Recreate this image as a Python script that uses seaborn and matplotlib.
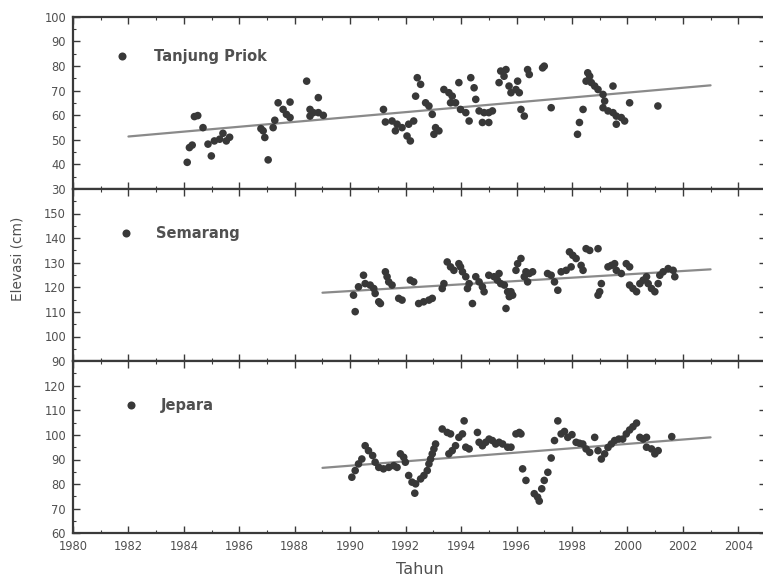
import numpy as np
import pandas as pd
import matplotlib
matplotlib.use("Agg")
import matplotlib.pyplot as plt
from matplotlib.lines import Line2D
import seaborn as sns
from matplotlib.ticker import MultipleLocator

# ---------------- data ----------------
stations = ["Tanjung Priok", "Semarang", "Jepara"]

tp_year = [1984.12, 1984.20, 1984.30, 1984.38, 1984.50, 1984.69, 1984.87, 1984.99, 1985.10, 1985.29,
           1985.41, 1985.53, 1985.65, 1986.78, 1986.86, 1986.92, 1987.04, 1987.22, 1987.28, 1987.40,
           1987.58, 1987.70, 1987.83, 1987.83, 1988.43, 1988.55, 1988.55, 1988.67, 1988.85, 1988.85,
           1989.03, 1991.20, 1991.27, 1991.51, 1991.63, 1991.69, 1991.87, 1992.05, 1992.11, 1992.17,
           1992.29, 1992.36, 1992.42, 1992.54, 1992.72, 1992.84, 1992.96, 1993.02, 1993.08, 1993.20,
           1993.38, 1993.56, 1993.62, 1993.68, 1993.80, 1993.92, 1993.98, 1994.17, 1994.29, 1994.35,
           1994.47, 1994.53, 1994.65, 1994.77, 1994.83, 1995.00, 1995.00, 1995.13, 1995.37, 1995.43,
           1995.55, 1995.62, 1995.73, 1995.80, 1995.98, 1996.04, 1996.10, 1996.16, 1996.28, 1996.40,
           1996.46, 1996.94, 1997.00, 1997.25, 1998.20, 1998.27, 1998.40, 1998.51, 1998.57, 1998.64,
           1998.70, 1998.82, 1998.94, 1999.12, 1999.12, 1999.18, 1999.30, 1999.48, 1999.48, 1999.60,
           1999.60, 1999.78, 1999.90, 2000.08, 2001.10]
tp_elev = [40.8, 46.8, 47.8, 59.4, 59.8, 54.9, 48.2, 43.4, 49.5, 50.2,
           52.6, 49.5, 51.0, 54.5, 53.6, 50.9, 41.8, 54.9, 57.9, 65.0,
           62.3, 60.3, 65.3, 59.0, 73.8, 62.3, 59.6, 61.0, 61.0, 67.1,
           59.9, 62.3, 57.2, 57.6, 53.6, 56.3, 54.9, 51.5, 56.3, 49.5,
           57.6, 67.7, 75.2, 72.5, 65.0, 63.7, 60.3, 52.2, 54.9, 53.6,
           70.4, 69.1, 65.0, 67.7, 65.0, 73.2, 62.3, 61.0, 57.6, 75.2,
           71.1, 66.4, 61.7, 57.0, 61.0, 61.0, 57.0, 61.7, 73.2, 77.9,
           75.8, 78.5, 71.8, 69.1, 70.4, 73.8, 69.1, 62.3, 59.6, 78.5,
           76.5, 79.2, 79.9, 63.0, 52.2, 57.0, 62.3, 73.8, 77.2, 75.8,
           73.2, 71.8, 70.4, 68.4, 63.0, 65.7, 61.7, 71.8, 61.0, 59.6,
           56.3, 59.0, 57.6, 65.0, 63.7]

sm_year = [1990.12, 1990.18, 1990.30, 1990.48, 1990.54, 1990.72, 1990.85, 1990.90, 1991.03, 1991.09,
           1991.27, 1991.33, 1991.39, 1991.51, 1991.75, 1991.87, 1992.17, 1992.29, 1992.47, 1992.65,
           1992.84, 1992.96, 1993.32, 1993.38, 1993.50, 1993.62, 1993.74, 1993.92, 1993.98, 1994.05,
           1994.17, 1994.23, 1994.29, 1994.41, 1994.53, 1994.65, 1994.77, 1994.83, 1995.00, 1995.19,
           1995.31, 1995.37, 1995.43, 1995.56, 1995.62, 1995.68, 1995.74, 1995.80, 1995.86, 1995.98,
           1996.04, 1996.16, 1996.28, 1996.34, 1996.40, 1996.46, 1996.58, 1997.12, 1997.25, 1997.37,
           1997.49, 1997.61, 1997.79, 1997.91, 1997.97, 1998.03, 1998.15, 1998.33, 1998.40, 1998.51,
           1998.64, 1998.94, 1998.94, 1999.00, 1999.06, 1999.30, 1999.42, 1999.54, 1999.60, 1999.78,
           1999.96, 2000.08, 2000.08, 2000.20, 2000.33, 2000.45, 2000.57, 2000.69, 2000.75, 2000.87,
           2000.99, 2001.11, 2001.17, 2001.29, 2001.47, 2001.65, 2001.71]
sm_elev = [116.8, 110.1, 120.2, 124.9, 121.5, 120.9, 119.5, 117.5, 114.1, 113.4,
           126.3, 124.3, 122.2, 120.9, 115.5, 114.8, 122.9, 122.2, 113.4, 114.1,
           114.8, 115.5, 119.5, 121.5, 130.3, 128.3, 126.9, 129.6, 128.3, 126.3,
           124.3, 119.5, 121.5, 113.4, 124.3, 122.2, 120.2, 118.2, 124.9, 124.3,
           122.9, 125.6, 121.5, 120.9, 111.4, 118.2, 116.2, 118.2, 116.8, 126.9,
           129.6, 131.7, 124.3, 126.3, 122.2, 125.6, 126.3, 125.6, 124.9, 122.2,
           118.8, 126.3, 126.9, 134.4, 128.3, 133.0, 131.7, 128.9, 126.9, 135.7,
           135.0, 135.7, 116.8, 118.2, 121.5, 128.3, 128.9, 129.6, 126.9, 125.6,
           129.6, 128.3, 120.9, 119.5, 118.2, 121.5, 122.9, 124.3, 121.5, 119.5,
           118.2, 121.5, 124.9, 126.3, 127.6, 126.9, 124.3]

jp_year = [1990.06, 1990.18, 1990.30, 1990.42, 1990.54, 1990.66, 1990.81, 1990.90, 1991.03, 1991.20,
           1991.39, 1991.57, 1991.69, 1991.81, 1991.93, 1991.99, 1992.11, 1992.23, 1992.33, 1992.36,
           1992.54, 1992.66, 1992.78, 1992.84, 1992.90, 1992.96, 1993.02, 1993.08, 1993.32, 1993.50,
           1993.56, 1993.62, 1993.68, 1993.80, 1993.92, 1994.05, 1994.11, 1994.17, 1994.29, 1994.59,
           1994.65, 1994.77, 1994.89, 1995.01, 1995.13, 1995.25, 1995.37, 1995.50, 1995.68, 1995.80,
           1995.98, 1996.10, 1996.16, 1996.22, 1996.34, 1996.64, 1996.76, 1996.82, 1996.91, 1997.00,
           1997.13, 1997.25, 1997.37, 1997.49, 1997.61, 1997.73, 1997.85, 1998.00, 1998.15, 1998.27,
           1998.39, 1998.51, 1998.64, 1998.82, 1998.94, 1999.06, 1999.18, 1999.30, 1999.42, 1999.54,
           1999.69, 1999.83, 1999.96, 2000.08, 2000.20, 2000.33, 2000.45, 2000.57, 2000.69, 2000.69,
           2000.87, 2000.99, 2001.11, 2001.60]
jp_elev = [82.8, 85.5, 88.2, 90.2, 95.6, 93.6, 91.6, 88.9, 86.8, 86.2,
           86.8, 87.5, 86.8, 92.3, 90.9, 88.9, 83.5, 80.8, 76.3, 80.1,
           82.1, 83.5, 85.5, 88.2, 90.2, 92.3, 94.3, 96.3, 102.4, 101.0,
           92.3, 100.4, 93.6, 95.6, 99.0, 100.4, 105.7, 95.0, 94.3, 101.0,
           97.0, 95.6, 97.0, 98.3, 97.7, 96.3, 97.0, 96.3, 95.0, 95.0,
           100.4, 101.0, 100.4, 86.2, 81.5, 76.1, 74.7, 73.1, 78.1, 81.5,
           84.8, 90.6, 97.7, 105.7, 100.4, 101.4, 99.0, 100.1, 97.0, 96.6,
           96.3, 94.3, 92.9, 99.0, 93.6, 90.2, 92.3, 94.9, 96.3, 97.7,
           98.3, 98.3, 100.4, 102.0, 103.3, 104.8, 99.0, 98.3, 99.0, 95.0,
           94.3, 92.3, 93.6, 99.3]

# linear trend lines (end points)
tp_trend_year = [1982.0, 2003.0]
tp_trend_elev = [51.3, 72.1]
sm_trend_year = [1989.0, 2003.0]
sm_trend_elev = [117.8, 127.3]
jp_trend_year = [1989.0, 2003.0]
jp_trend_elev = [86.6, 99.0]

y_limits = [(30, 100), (90, 160), (60, 130)]
y_ticks = [list(range(30, 101, 10)), list(range(90, 151, 10)), list(range(60, 121, 10))]
x_ticks = list(range(1980, 2005, 2))

# ---------------- plot ----------------
sns.set_theme(style="white")
plt.rcParams['font.family'] = ['DejaVu Sans']

fig, axes = plt.subplots(3, 1, figsize=(7.63, 5.77), dpi=100, sharex=True,
                         gridspec_kw=dict(hspace=0))
fig.subplots_adjust(left=73/763, right=766/763, bottom=1-533.3/577, top=1-16.7/577)

series = [
    (tp_year, tp_elev, tp_trend_year, tp_trend_elev),
    (sm_year, sm_elev, sm_trend_year, sm_trend_elev),
    (jp_year, jp_elev, jp_trend_year, jp_trend_elev),
]
legend_pos = [(0.0595, 0.81), (0.0655, 0.782), (0.0735, 0.785)]
legend_pad = [1.75, 1.6, 1.5]

spine_col = "#3a3a3a"
text_col = "#505050"
dot_col = "#383838"

for i, ax in enumerate(axes):
    yr, ev, tyr, tev = series[i]
    df = pd.DataFrame({"Tahun": yr, "Elevasi": ev})
    tdf = pd.DataFrame({"Tahun": tyr, "Elevasi": tev})
    sns.lineplot(data=tdf, x="Tahun", y="Elevasi", ax=ax, color="#8a8a8a",
                 linewidth=1.6, zorder=2)
    sns.scatterplot(data=df, x="Tahun", y="Elevasi", ax=ax, color=dot_col,
                    s=30, edgecolor="none", zorder=3, legend=False)
    ax.set_xlim(1980, 2005)
    ax.set_ylim(*y_limits[i])
    ax.set_yticks(y_ticks[i])
    ax.set_xticks(x_ticks)
    ax.xaxis.set_minor_locator(MultipleLocator(1))
    ax.yaxis.set_minor_locator(MultipleLocator(5))
    ax.tick_params(which="both", direction="in", top=True, right=True,
                   bottom=True, left=True, color=spine_col)
    ax.tick_params(which="major", length=5, width=1.0, labelsize=8.3,
                   labelcolor=text_col, pad=5)
    ax.tick_params(which="minor", length=2.5, width=0.8)
    for sp in ax.spines.values():
        sp.set_color(spine_col)
        sp.set_linewidth(1.6)
    ax.set_xlabel("")
    ax.set_ylabel("")
    handle = Line2D([], [], marker="o", linestyle="none", color=dot_col,
                    markeredgecolor="none", markersize=5.8)
    ax.legend(handles=[handle], labels=[stations[i]], loc="upper left",
              bbox_to_anchor=legend_pos[i], frameon=False, borderpad=0,
              borderaxespad=0, handlelength=1.0, handletextpad=legend_pad[i],
              prop=dict(size=10.5, weight="bold"), labelcolor=text_col)

axes[-1].set_xticklabels([str(t) for t in x_ticks])

fig.text(18/763, 1-259/577, "Elevasi (cm)", rotation=90, ha="center", va="center",
         fontsize=9.8, color=text_col)
fig.text(420/763, 0.5/577, "Tahun", ha="center", va="bottom", fontsize=11.5,
         color=text_col)

fig.savefig("out.png", dpi=100, facecolor="white")
